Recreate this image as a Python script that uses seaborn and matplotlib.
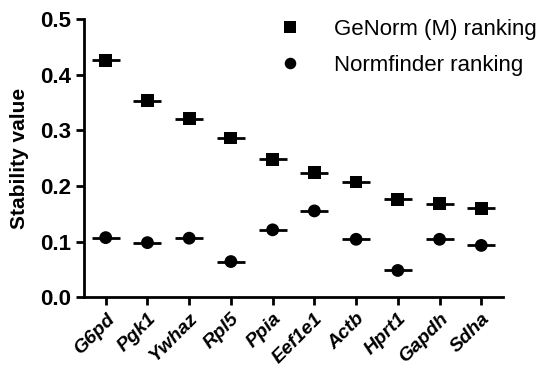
import matplotlib
matplotlib.use("Agg")
import matplotlib.pyplot as plt
import seaborn as sns
import pandas as pd

genes = ["G6pd", "Pgk1", "Ywhaz", "Rpl5", "Ppia", "Eef1e1", "Actb", "Hprt1", "Gapdh", "Sdha"]
genorm = [0.426, 0.353, 0.321, 0.286, 0.248, 0.224, 0.207, 0.176, 0.168, 0.160]
normfinder = [0.107, 0.098, 0.106, 0.064, 0.121, 0.155, 0.104, 0.048, 0.104, 0.093]
series_names = ["GeNorm (M) ranking", "Normfinder ranking"]
y_ticks = [0.0, 0.1, 0.2, 0.3, 0.4, 0.5]

sns.set_style("ticks")
plt.rcParams["font.family"] = ["Liberation Sans", "DejaVu Sans"]
plt.rcParams["text.color"] = "black"
plt.rcParams["axes.labelcolor"] = "black"
plt.rcParams["xtick.color"] = "black"
plt.rcParams["ytick.color"] = "black"
plt.rcParams["axes.edgecolor"] = "black"

df = pd.DataFrame({
    "gene": genes * 2,
    "value": genorm + normfinder,
    "series": [series_names[0]] * len(genes) + [series_names[1]] * len(genes),
})
df["x"] = df["gene"].map({g: i for i, g in enumerate(genes)})

fig = plt.figure(figsize=(5.42, 3.71), dpi=100)
ax = fig.add_axes([0.155, 0.199, 0.773, 0.750])

# horizontal mean bars
sns.scatterplot(data=df, x="x", y="value", marker="_", s=380, linewidth=2.0,
                color="black", ax=ax, legend=False, zorder=2)
# markers
sns.scatterplot(data=df, x="x", y="value", style="series",
                markers={series_names[0]: "s", series_names[1]: "o"},
                s=85, color="black", edgecolor="black", linewidth=0,
                ax=ax, zorder=3)

ax.set_xlim(-0.52, 9.52)
ax.set_ylim(0, 0.5)
ax.set_yticks(y_ticks)
ax.set_yticklabels([f"{t:.1f}" for t in y_ticks], fontsize=16, fontweight="bold")
ax.set_xticks(range(len(genes)))
ax.set_xticklabels(genes, rotation=45, ha="right", rotation_mode="anchor",
                   fontsize=14, fontweight="bold", style="italic")
ax.set_xlabel("")
ax.set_ylabel("Stability value", fontsize=15, fontweight="bold", labelpad=8)

for s in ["left", "bottom"]:
    ax.spines[s].set_linewidth(2.0)
sns.despine(ax=ax)
ax.tick_params(axis="both", width=2.0, length=6, direction="out", color="black")

h, l = ax.get_legend_handles_labels()
ax.get_legend().remove()
fig.legend(h, l, loc="upper right", bbox_to_anchor=(1.028, 1.004), frameon=False,
           fontsize=16, labelspacing=0.7, handletextpad=1.0, markerscale=0.9)

fig.savefig("out.png", dpi=100)
